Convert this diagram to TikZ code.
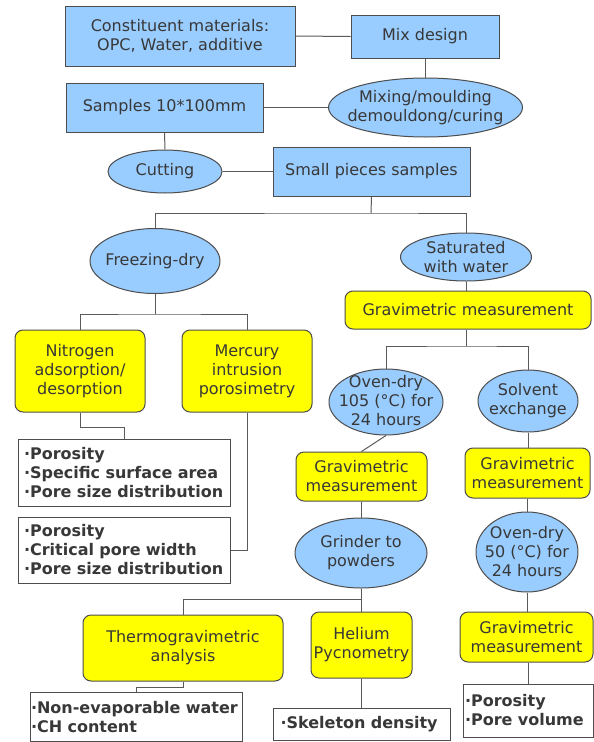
\documentclass[tikz,border=0pt]{standalone}
\usepackage{fontspec}
\setmainfont{DejaVu Sans}
\usetikzlibrary{shapes.geometric}
\definecolor{bluefill}{HTML}{99CCFF}
\definecolor{yfill}{HTML}{FFFF00}
\definecolor{edgec}{HTML}{4D4D4D}
\definecolor{txtc}{HTML}{383838}
\definecolor{linec}{HTML}{5A5A5A}
\begin{document}
\begin{tikzpicture}[x=1pt,y=-1pt,
 base/.style={draw=edgec, line width=1pt, text=txtc, inner sep=0pt, align=center, font=\fontsize{16}{18.5}\selectfont},
 bbox/.style={base, rectangle, fill=bluefill},
 ybox/.style={base, rectangle, rounded corners=8pt, fill=yfill, font=\fontsize{16}{19}\selectfont},
 ell/.style={base, ellipse, fill=bluefill},
 lab/.style={text=txtc, inner sep=0pt, align=center, font=\fontsize{16}{19}\selectfont},
 wbox/.style={base, rectangle, fill=white, align=left, font=\fontsize{16}{19}\selectfont\bfseries},
 conn/.style={draw=linec, line width=1pt}]
\useasboundingbox (0,0) rectangle (594,742);
\fill[white] (0,0) rectangle (594,742);

% top part
\node[bbox, minimum width=230pt, minimum height=60pt] (cons) at (180,36) {Constituent materials:\\OPC, Water, additive};
\node[bbox, minimum width=148pt, minimum height=43pt] (mix) at (425,36.5) {Mix design};
\node[ell, minimum width=194pt, minimum height=59pt] (mixing) at (425.5,107.5) {};
\node[lab] (mixingt) at (mixing) {Mixing/moulding\\demouldong/curing};
\node[bbox, minimum width=197pt, minimum height=49pt] (samples) at (164.5,107.5) {Samples 10*100mm};
\node[ell, minimum width=114pt, minimum height=43pt] (cutting) at (165,171.5) {};
\node[lab] (cuttingt) at (cutting) {Cutting};
\node[bbox, minimum width=197pt, minimum height=49pt] (small) at (371.5,171.5) {Small pieces samples};

% left branch
\node[ell, minimum width=130pt, minimum height=65pt] (freeze) at (155,261) {};
\node[lab] (freezet) at (freeze) {Freezing-dry};
\node[ybox, minimum width=130pt, minimum height=82pt] (nitro) at (80,371) {Nitrogen\\adsorption/\\desorption};
\node[ybox, minimum width=130pt, minimum height=82pt] (merc) at (247,371) {Mercury\\intrusion\\porosimetry};
\node[wbox, minimum width=212pt, minimum height=67pt, text width=200pt] (res1) at (124,472.5) {·Porosity\\·Specific surface area\\·Pore size distribution};
\node[wbox, minimum width=212pt, minimum height=66pt, text width=200pt] (res2) at (124,550) {·Porosity\\·Critical pore width\\·Pore size distribution};

% right branch
\node[ell, minimum width=131pt, minimum height=48pt] (sat) at (466,257) {};
\node[lab] (satt) at (sat) {Saturated\\with water};
\node[ybox, minimum width=246pt, minimum height=38pt] (grav1) at (468,310) {Gravimetric measurement};
\node[ell, minimum width=114pt, minimum height=66pt] (oven105) at (386,402) {};
\node[lab] (oven105t) at (386,401) {Oven-dry\\105 (°C) for\\24 hours};
\node[ell, minimum width=100pt, minimum height=62pt] (solvent) at (528,401) {};
\node[lab] (solventt) at (solvent) {Solvent\\exchange};
\node[ybox, minimum width=131pt, minimum height=49pt] (grav2) at (361.5,476.5) {Gravimetric\\measurement};
\node[ybox, minimum width=125pt, minimum height=50pt] (grav3) at (527.5,473) {Gravimetric\\measurement};
\node[ell, minimum width=132pt, minimum height=70pt] (grinder) at (361,553) {};
\node[lab] (grindert) at (grinder) {Grinder to\\powders};
\node[ell, minimum width=102pt, minimum height=80pt] (oven50) at (527,552) {};
\node[lab] (oven50t) at (oven50) {Oven-dry\\50 (°C) for\\24 hours};
\node[ybox, minimum width=200pt, minimum height=66pt] (thermo) at (183,648) {Thermogravimetric\\analysis};
\node[ybox, minimum width=101pt, minimum height=66pt] (helium) at (361.5,645) {Helium\\Pycnometry};
\node[ybox, minimum width=133pt, minimum height=50pt] (grav4) at (526.5,637) {Gravimetric\\measurement};
\node[wbox, minimum width=212pt, minimum height=49pt, text width=210pt] (res3) at (136,717) {·Non-evaporable water\\·CH content};
\node[wbox, minimum width=177pt, minimum height=32pt, text width=162pt] (res4) at (361.5,724) {·Skeleton density};
\node[wbox, minimum width=130pt, minimum height=53pt, text width=126pt] (res5) at (528,710.5) {·Porosity\\·Pore volume};

% junction coordinates
\coordinate (j1) at (371,213);
\coordinate (j2) at (155,314);
\coordinate (j3) at (466,346);
\coordinate (j4) at (361,599);
\coordinate (j5) at (80,427);
\coordinate (j6) at (183,687);

% connectors
\draw[conn] (cons.east) -- (mix.west);
\draw[conn] (mix.south) -- (mix.south |- mixing.north);
\draw[conn] (samples.east) -- (mixing.west);
\draw[conn] (samples.south) -- (cutting.north);
\draw[conn] (cutting.east) -- (small.west);
\draw[conn] (small.south) -- (j1);
\draw[conn] (freeze.north) |- (j1) -| (sat.north);
\draw[conn] (freeze.south) -- (j2);
\draw[conn] (nitro.north) |- (j2) -| (merc.north);
\draw[conn] (nitro.south) -- (j5) -| (res1.north);
\draw[conn] (merc.south) |- (res2.east);
\draw[conn] (sat.south) -- (sat.south |- grav1.north);
\draw[conn] (grav1.south -| j3) -- (j3);
\draw[conn] (oven105.north) |- (j3) -| (solvent.north);
\draw[conn] (oven105.south) -- (grav2.north);
\draw[conn] (solvent.south) -- (solvent.south |- grav3.north);
\draw[conn] (grav2.south) -- (grav2.south |- grinder.north);
\draw[conn] (grav3.south -| oven50.north) -- (oven50.north);
\draw[conn] (grinder.south) -- (grinder.south |- helium.north);
\draw[conn] (thermo.north) |- (j4);
\draw[conn] (oven50.south) -- (oven50.south |- grav4.north);
\draw[conn] (grav4.south -| res5.north) -- (res5.north);
\draw[conn] (thermo.south) -- (j6) -| (res3.north);
\draw[conn] (helium.south) -- (helium.south |- res4.north);
\end{tikzpicture}
\end{document}
